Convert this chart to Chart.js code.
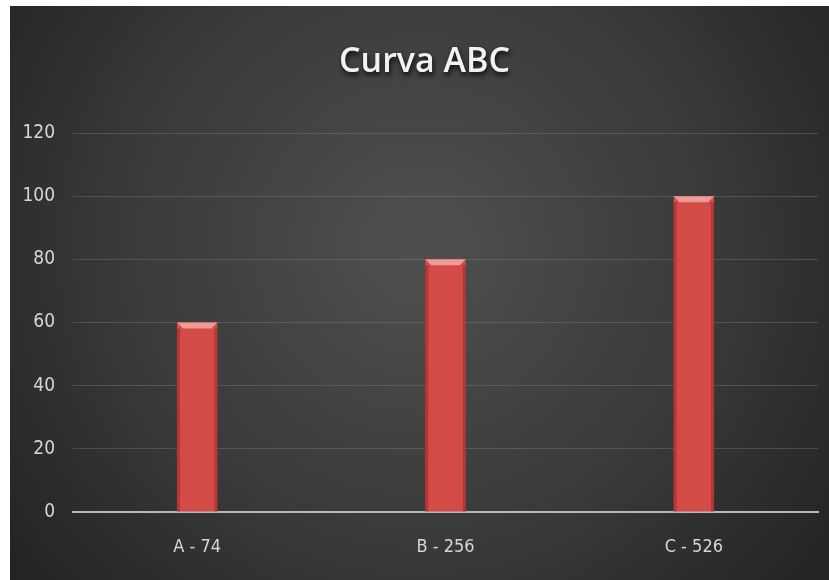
<!DOCTYPE html>
<html>
<head>
<meta charset="utf-8">
<script src="https://cdn.jsdelivr.net/npm/chart.js@4/dist/chart.umd.min.js"></script>
<style>
  html, body { margin: 0; padding: 0; background: #ffffff; }
  #wrap { position: absolute; left: 10px; top: 6px; width: 819px; height: 574px; }
</style>
</head>
<body>
<div id="wrap"><canvas id="c" width="819" height="574"></canvas></div>
<script>
const categories = ['A - 74', 'B - 256', 'C - 526'];
const values = [60, 80, 100];
const yTicks = [0, 20, 40, 60, 80, 100, 120];
const chartTitle = 'Curva ABC';

const tickFont = "'Liberation Sans Narrow', 'DejaVu Sans Condensed', sans-serif";

// Dark panel with a soft radial light in the middle, plus the title
const panelPlugin = {
  id: 'panel',
  beforeDraw(chart) {
    const { ctx, width, height } = chart;
    ctx.save();
    const g = ctx.createRadialGradient(width * 0.5, height * 0.42, 20, width * 0.5, height * 0.42, width * 0.62);
    g.addColorStop(0, '#4e4e4e');
    g.addColorStop(0.55, '#3a3a3a');
    g.addColorStop(1, '#242424');
    ctx.fillStyle = g;
    ctx.fillRect(0, 0, width, height);
    ctx.restore();
  },
  afterDraw(chart) {
    const { ctx, width } = chart;
    ctx.save();
    ctx.font = "600 34px 'Open Sans', sans-serif";
    ctx.textAlign = 'center';
    ctx.textBaseline = 'middle';
    ctx.shadowColor = 'rgba(0,0,0,0.85)';
    ctx.shadowBlur = 5;
    ctx.shadowOffsetX = 1;
    ctx.shadowOffsetY = 3;
    ctx.fillStyle = '#f2f2f2';
    ctx.fillText(chartTitle, width / 2 + 5, 56);
    ctx.restore();
  }
};

// Light bevel along the top of each bar, darker side edges
const bevelPlugin = {
  id: 'bevel',
  afterDatasetsDraw(chart) {
    const { ctx } = chart;
    const meta = chart.getDatasetMeta(0);
    ctx.save();
    meta.data.forEach(bar => {
      const half = bar.width / 2;
      const l = bar.x - half, r = bar.x + half, t = bar.y;
      const d = 6;
      ctx.beginPath();
      ctx.moveTo(l, t);
      ctx.lineTo(r, t);
      ctx.lineTo(r - d, t + d);
      ctx.lineTo(l + d, t + d);
      ctx.closePath();
      ctx.fillStyle = '#ee9a98';
      ctx.fill();
      ctx.fillStyle = 'rgba(120,20,20,0.35)';
      ctx.fillRect(l, t + d, 3, bar.base - t - d);
      ctx.fillRect(r - 3, t + d, 3, bar.base - t - d);
    });
    ctx.restore();
  }
};

function barFill(context) {
  const chart = context.chart;
  const el = context.element;
  if (!el || !chart.chartArea || !Number.isFinite(el.x) || !Number.isFinite(el.width)) return '#d24b47';
  const half = el.width / 2;
  const g = chart.ctx.createLinearGradient(el.x - half, 0, el.x + half, 0);
  g.addColorStop(0, '#b83b38');
  g.addColorStop(0.2, '#d6524e');
  g.addColorStop(0.5, '#da5753');
  g.addColorStop(0.8, '#d44f4b');
  g.addColorStop(1, '#b03835');
  return g;
}

new Chart(document.getElementById('c'), {
  type: 'bar',
  data: {
    labels: categories,
    datasets: [{
      data: values,
      backgroundColor: barFill,
      borderWidth: 0,
      barPercentage: 0.163,
      categoryPercentage: 1
    }]
  },
  options: {
    responsive: false,
    animation: false,
    devicePixelRatio: 1,
    layout: { padding: { top: 127, right: 11, bottom: 0, left: 0 } },
    plugins: {
      legend: { display: false },
      title: { display: false },
      tooltip: { enabled: false }
    },
    scales: {
      x: {
        grid: { display: false, drawTicks: false },
        border: { display: true, color: '#b8b8b8', width: 2 },
        ticks: {
          color: '#d6d6d6',
          font: { family: tickFont, size: 18 },
          padding: 25
        },
        afterFit(scale) { scale.height = 68; }
      },
      y: {
        min: 0,
        max: 120,
        afterBuildTicks(scale) { scale.ticks = yTicks.map(v => ({ value: v })); },
        grid: {
          color: (c) => c.tick && c.tick.value === 0 ? '#b8b8b8' : 'rgba(150,150,150,0.3)',
          lineWidth: 1,
          drawTicks: false
        },
        border: { display: false },
        ticks: {
          color: '#d6d6d6',
          font: { family: tickFont, size: 19 },
          padding: 18
        },
        afterFit(scale) { scale.width = 63; }
      }
    }
  },
  plugins: [panelPlugin, bevelPlugin]
});
</script>
</body>
</html>
